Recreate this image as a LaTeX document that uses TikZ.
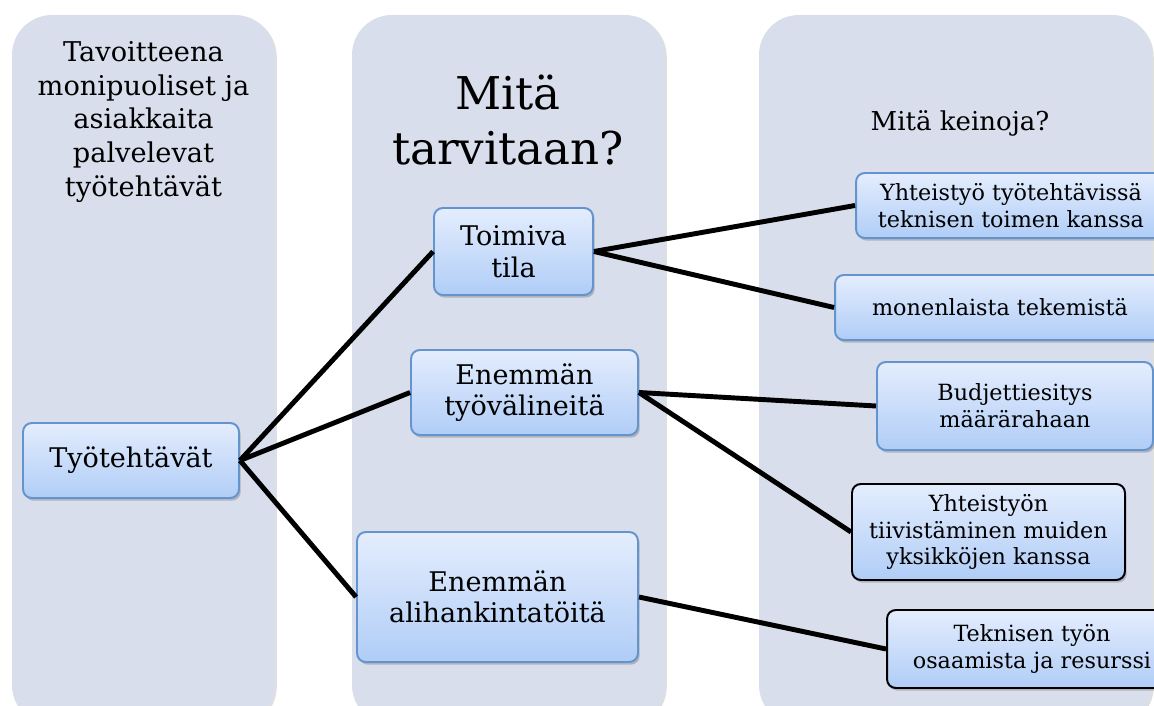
\documentclass[tikz,border=0pt]{standalone}
\usepackage{fontspec}
\setmainfont{DejaVu Serif}
\usetikzlibrary{shadows}
\definecolor{lanefill}{RGB}{217,222,236}
\definecolor{boxtop}{RGB}{228,237,253}
\definecolor{boxbottom}{RGB}{176,205,247}
\definecolor{boxline}{RGB}{100,148,206}
\tikzset{
  lane/.style={fill=lanefill, rounded corners=0.8cm,
    drop shadow={opacity=0.25, shadow xshift=1pt, shadow yshift=-1pt}},
  goal/.style={draw=boxline, line width=1.1pt, rounded corners=5pt,
    top color=boxtop, bottom color=boxbottom, align=center, inner sep=2pt,
    drop shadow={opacity=0.45, shadow xshift=1pt, shadow yshift=-1.5pt}},
  need/.style={goal, font=\fontsize{15.4}{18}\selectfont},
  means/.style={goal, font=\fontsize{12.7}{15.3}\selectfont},
  meansdark/.style={means, draw=black},
  link/.style={line width=2.8pt, black},
  title/.style={align=center, inner sep=0pt}
}

\begin{document}
\begin{tikzpicture}[x=0.02cm, y=-0.02cm]
\useasboundingbox (0,0) rectangle (1154,706);
\clip (0,0) rectangle (1154,706);
\fill[lane] (12,15) rectangle (275,725);
\fill[lane] (352,15) rectangle (665,725);
\fill[lane] (759,15) rectangle (1152,725);

\node[title, font=\fontsize{15.5}{19.3}\selectfont] (goaltext) at (143.5,122)
  {Tavoitteena\\monipuoliset ja\\asiakkaita\\palvelevat\\työtehtävät};
\node[title, font=\fontsize{25.7}{31}\selectfont] (needtext) at (508,120) {Mitä\\tarvitaan?};
\node[title, font=\fontsize{14.8}{17}\selectfont, anchor=base] (meanstext) at (960,131) {Mitä keinoja?};

\node[need, minimum width=4.32cm, minimum height=1.5cm] (tehtavat) at (131,460.5) {Työtehtävät};
\node[need, minimum width=3.18cm, minimum height=1.74cm] (tila) at (513.5,251.5) {Toimiva\\tila};
\node[need, minimum width=4.54cm, minimum height=1.7cm] (valineet) at (524.5,392.5) {Enemmän\\työvälineitä};
\node[need, minimum width=5.62cm, minimum height=2.6cm] (alihankinta) at (497.5,597) {Enemmän\\alihankintatöitä};

\node[means, minimum width=6.2cm, minimum height=1.3cm] (yhteistyo) at (1011,205.5) {Yhteistyö työtehtävissä\\teknisen toimen kanssa};
\node[means, minimum width=6.6cm, minimum height=1.3cm] (tekeminen) at (1000,307.5) {monenlaista tekemistä};
\node[means, minimum width=5.52cm, minimum height=1.76cm] (budjetti) at (1015,406) {Budjettiesitys\\määrärahaan};
\node[meansdark, minimum width=5.46cm, minimum height=1.92cm] (yksikot) at (988.5,532) {Yhteistyön\\tiivistäminen muiden\\yksikköjen kanssa};
\node[meansdark, minimum width=5.8cm, minimum height=1.56cm] (tekninen) at (1032,649) {Teknisen työn\\osaamista ja resurssi};

\draw[link] (tehtavat.east) -- (tila.west);
\draw[link] (tehtavat.east) -- (valineet.west);
\draw[link] (tehtavat.east) -- (alihankinta.west);
\draw[link] (tila.east) -- (yhteistyo.west);
\draw[link] (tila.east) -- (tekeminen.west);
\draw[link] (valineet.east) -- (budjetti.west);
\draw[link] (valineet.east) -- (yksikot.west);
\draw[link] (alihankinta.east) -- (tekninen.west);
\end{tikzpicture}
\end{document}
